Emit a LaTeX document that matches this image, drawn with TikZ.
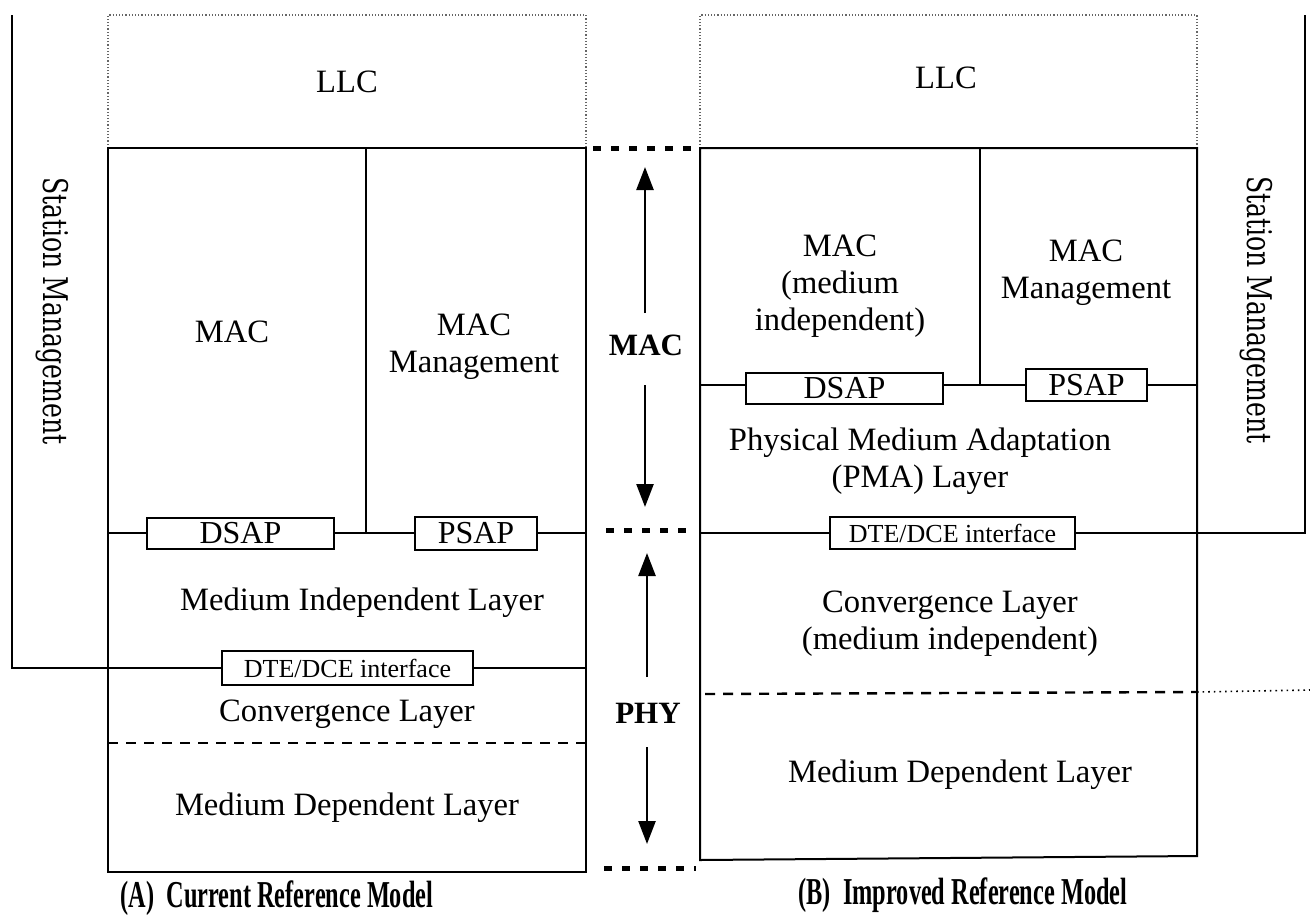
\documentclass[tikz,border=0pt]{standalone}
\usepackage{fontspec}
\setmainfont{Liberation Serif}
\newfontfamily\smfont{DejaVu Serif}
\usetikzlibrary{arrows.meta}
\begin{document}
\begin{tikzpicture}[x=0.5pt,y=-0.5pt,
  line width=1pt,
  every node/.style={inner sep=0pt},
  lbl/.style={font=\fontsize{16.3}{18.5}\selectfont, align=center},
  sapbox/.style={draw, line width=1pt, font=\fontsize{16}{18}\selectfont, minimum height=15.5pt},
  ifcbox/.style={draw, line width=1pt, font=\fontsize{13}{15}\selectfont, minimum height=17pt},
  dotb/.style={densely dotted, line width=0.6pt, black!60},
  dashl/.style={dash pattern=on 5pt off 4pt, line width=1.2pt},
  dotl/.style={dotted, line width=0.8pt},
  sqdash/.style={dash pattern=on 4pt off 5pt, line width=2.5pt},
  arr/.style={line width=1.25pt, -{Triangle[length=11.5pt,width=8.5pt]}},
  captxt/.style={font=\bfseries\fontsize{19}{20}\selectfont},
  midtxt/.style={font=\bfseries\fontsize{15.5}{18}\selectfont},
  smtxt/.style={font=\smfont\fontsize{17}{20}\selectfont, rotate=-90}
]
\useasboundingbox (0,0) rectangle (1310,921);

% ---------- Left model (A) ----------
\coordinate (A-tl) at (108,15);  \coordinate (A-tr) at (586,15);
\coordinate (A-ml) at (108,148); \coordinate (A-mr) at (586,148);
\coordinate (A-bl) at (108,872); \coordinate (A-br) at (586,872);
\draw[dotb] (A-ml) -- (A-tl) -- (A-tr) -- (A-mr);
\draw (A-ml) -- (A-bl) -- (A-br) -- (A-mr) -- cycle;

\node[lbl] (A-llc) at (347,82) {LLC};
\node[lbl] (A-mac) at (232,332) {MAC};
\node[lbl] (A-macm) at (474,347) {MAC\\Management};

\node[sapbox, minimum width=93.5pt] (A-dsap) at (240.5,533) {DSAP};
\node[sapbox, minimum width=61pt, minimum height=16.5pt] (A-psap) at (476,533) {PSAP};
\coordinate (A-dt) at (366,148);
\draw (A-dt) -- (A-dt |- A-dsap);
\draw (A-ml |- A-dsap) -- (A-dsap.west);
\draw (A-dsap.east) -- (A-psap.west);
\draw (A-psap.east) -- (A-mr |- A-psap);

\node[lbl] (A-mil) at (362,603) {Medium Independent Layer};

\node[ifcbox, minimum width=125.5pt] (A-dte) at (347.5,668) {DTE/DCE interface};
\coordinate (A-sm) at (12,15);
\draw (A-sm) -- (A-sm |- A-dte) -- (A-dte.west);
\draw (A-dte.east) -- (A-mr |- A-dte);
\node[smtxt] (A-smt) at (52,311) {\scalebox{0.74}[1]{Station Management}};

\node[lbl] (A-conv) at (347,714) {Convergence Layer};
\coordinate (A-dl) at (108,743); \coordinate (A-dr) at (586,743);
\draw[dashl] (A-dl) -- (A-dr);
\node[lbl] (A-mdl) at (347,808) {Medium Dependent Layer};

\node[captxt] (A-cap) at (277,898) {\scalebox{0.64}[1]{(A)\ \ Current Reference Model}};

% ---------- Right model (B) ----------
\coordinate (B-tl) at (700,15);  \coordinate (B-tr) at (1197,15);
\coordinate (B-ml) at (700,148); \coordinate (B-mr) at (1197,148);
\coordinate (B-bl) at (700,860); \coordinate (B-br) at (1197,856);
\draw[dotb] (B-ml) -- (B-tl) -- (B-tr) -- (B-mr);
\draw (B-ml) -- (B-bl) -- (B-br) -- (B-mr) -- cycle;

\node[lbl] (B-llc) at (946,78) {LLC};
\node[lbl] (B-mac) at (840,286) {MAC\\(medium\\independent)};
\node[lbl] (B-macm) at (1086,273) {MAC\\Management};

\node[sapbox, minimum width=98.5pt] (B-dsap) at (844.5,388) {DSAP};
\node[sapbox, minimum width=60.5pt, minimum height=16pt] (B-psap) at (1086.5,385) {PSAP};
\coordinate (B-dt) at (980,148);
\draw (B-dt) -- (B-dt |- B-psap);
\draw (B-ml |- B-psap) -- (B-dsap.west |- B-psap);
\draw (B-dsap.east |- B-psap) -- (B-psap.west);
\draw (B-psap.east) -- (B-mr |- B-psap);

\node[lbl] (B-pma) at (920,461) {Physical Medium Adaptation\\(PMA) Layer};

\node[ifcbox, minimum width=122.5pt, minimum height=16pt] (B-dte) at (952.5,533) {DTE/DCE interface};
\coordinate (B-sm) at (1305,15);
\draw (B-ml |- B-dte) -- (B-dte.west);
\draw (B-dte.east) -- (B-sm |- B-dte) -- (B-sm);
\node[smtxt] (B-smt) at (1256,310) {\scalebox{0.74}[1]{Station Management}};

\node[lbl] (B-conv) at (950,624) {Convergence Layer\\(medium independent)};
\coordinate (B-dl) at (705,694); \coordinate (B-dr) at (1197,692);
\coordinate (B-de) at (1310,690);
\draw[dashl] (B-dl) -- (B-dr);
\draw[dotl] (B-dr) -- (B-de);
\node[lbl] (B-mdl) at (960,775) {Medium Dependent Layer};

\node[captxt] (B-cap) at (963,895) {\scalebox{0.64}[1]{(B)\ \ Improved Reference Model}};

% ---------- Middle ----------
\coordinate (M1a) at (593,148); \coordinate (M1b) at (694,148);
\coordinate (M2a) at (606,530); \coordinate (M2b) at (694,530);
\coordinate (M3a) at (604,868); \coordinate (M3b) at (696,868);
\draw[sqdash] (M1a) -- (M1b);
\draw[sqdash] (M2a) -- (M2b);
\draw[sqdash] (M3a) -- (M3b);

\node[midtxt] (mac) at (646,345) {MAC};
\node[midtxt] (phy) at (648,713) {PHY};
\coordinate (macT) at (645,167);
\coordinate (macB) at (645,507);
\coordinate (phyT) at (647,553);
\coordinate (phyB) at (647,844);
\draw[arr] (645,313) -- (macT);
\draw[arr] (645,385) -- (macB);
\draw[arr] (647,677) -- (phyT);
\draw[arr] (647,747) -- (phyB);
\end{tikzpicture}
\end{document}
